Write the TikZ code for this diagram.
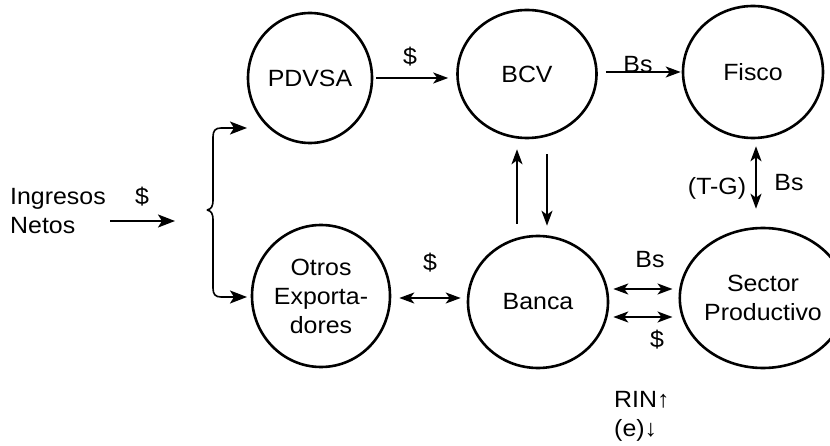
\documentclass[tikz,border=0pt]{standalone}
\usepackage{fontspec}
\setmainfont{Liberation Sans}[FakeStretch=1.06]
\usetikzlibrary{shapes.geometric,arrows.meta,calc}
\begin{document}
\begin{tikzpicture}[x=1pt,y=-1pt,
  txt/.style={font=\fontsize{23.5}{29}\selectfont},
  ent/.style={ellipse,draw,line width=2.6pt,inner sep=0pt,align=center,txt},
  arr/.style={line width=2pt,-{Stealth[length=15pt,width=11pt,inset=4pt]}},
  bigarr/.style={line width=2.2pt,-{Stealth[length=17pt,width=13pt,inset=4pt]}},
  darr/.style={line width=2pt,{Stealth[length=15pt,width=11pt,inset=4pt]}-{Stealth[length=15pt,width=11pt,inset=4pt]}},
  lbl/.style={inner sep=0pt,txt}]
\useasboundingbox (0,0) rectangle (830,446);

% entities
\node[ent,minimum width=124pt,minimum height=130pt] (pdvsa) at (310,78) {PDVSA};
\node[ent,minimum width=139pt,minimum height=128pt] (bcv) at (527,74) {BCV};
\node[ent,minimum width=140pt,minimum height=132pt] (fisco) at (753,72) {Fisco};
\node[ent,minimum width=138pt,minimum height=142pt] (otros) at (321,296) {Otros\\Exporta-\\dores};
\node[ent,minimum width=140pt,minimum height=132pt] (banca) at (538,302) {Banca};
\node[ent,minimum width=138pt,minimum height=140pt] (sector) at (763,298) {Sector\\Productivo};

% connectors
\draw[arr] ($(pdvsa.east)+(3,0)$) -- ($(pdvsa.east -| bcv.west)+(-8,0)$);
\draw[arr] ($(bcv.east)+(8,-2)$) -- ($(bcv.east -| fisco.west)+(-1,-2)$);
\draw[darr] ($(fisco.south)+(3,7)$) -- ($(sector.north)+(-7,-18)$);
\draw[arr] ($(banca.north)+(-21,-11)$) -- ($(bcv.south)+(-10,10)$);
\draw[arr] ($(bcv.south)+(20,15)$) -- ($(banca.north)+(9,-9)$);
\draw[darr] ($(otros.east)+(8,2)$) -- ($(banca.west)+(-6,-4)$);
\draw[darr] ($(banca.east)+(4,-13)$) -- ($(sector.west)+(-6,-9)$);
\draw[darr] ($(banca.east)+(4,15)$) -- ($(sector.west)+(-6,19)$);

% incoming
\node[lbl,anchor=north west,align=left] (ing) at (10,188) {Ingresos\\Netos};
\coordinate (inA) at (110,221);
\coordinate (inB) at (175,221);
\draw[bigarr] (inA) -- (inB);
\node[lbl,anchor=base] (ingd) at (142,205) {\$};

% brace
\coordinate (br) at (207,210);
\coordinate (bt) at (247,128);
\coordinate (bb) at (247,297);
\draw[bigarr,line width=1.6pt] (br) .. controls (211,209) and (213,207) .. (213,200) -- (213,137)
  .. controls (213,131) and (215,128) .. (221,128) -- (bt);
\draw[bigarr,line width=1.6pt] (br) .. controls (211,211) and (213,213) .. (213,220) -- (213,288)
  .. controls (213,294) and (215,297) .. (221,297) -- (bb);

% labels
\node[lbl,anchor=base] (l1) at (410,65) {\$};
\node[lbl,anchor=base] (l2) at (638,73) {Bs};
\node[lbl,anchor=base] (l3) at (717,195) {(T-G)};
\node[lbl,anchor=base] (l4) at (789,191) {Bs};
\node[lbl,anchor=base] (l5) at (430,271) {\$};
\node[lbl,anchor=base] (l6) at (650,268) {Bs};
\node[lbl,anchor=base] (l7) at (657,348) {\$};
\node[lbl,anchor=north west,align=left] (rin) at (614,391) {RIN↑\\(e)↓};
\end{tikzpicture}
\end{document}
